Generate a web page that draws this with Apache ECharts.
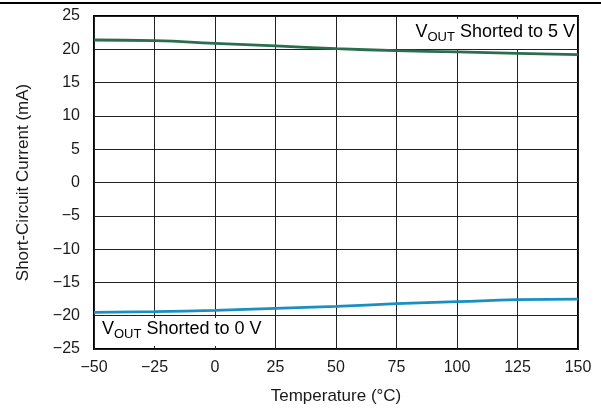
<!DOCTYPE html>
<html>
<head>
<meta charset="utf-8">
<script src="https://cdn.jsdelivr.net/npm/echarts@6/dist/echarts.min.js"></script>
<style>
html,body{margin:0;padding:0;background:#fff;}
#c{width:601px;height:413px;}
</style>
</head>
<body>
<div id="c"></div>
<script>
const temps = [-50, -25, 0, 25, 50, 75, 100, 125, 150];
const shorted5V = [21.4, 21.3, 20.9, 20.5, 20.1, 19.8, 19.6, 19.4, 19.2];
const shorted0V = [-19.5, -19.4, -19.2, -18.9, -18.6, -18.2, -17.9, -17.6, -17.5];
const xTicks = { min: -50, max: 150, interval: 25 };
const yTicks = { min: -25, max: 25, interval: 5 };
const xName = 'Temperature (\u00B0C)';
const yName = 'Short-Circuit Current (mA)';

const FONT = 'Liberation Sans, Arial, sans-serif';
const fmt = v => (v < 0 ? '\u2212' + Math.abs(v) : String(v));

const chart = echarts.init(document.getElementById('c'), null, {renderer: 'canvas'});
const rich = {
  a: {fontSize: 18, fontFamily: FONT, color: '#1a1a1a', lineHeight: 21, verticalAlign: 'top'},
  b: {fontSize: 13, fontFamily: FONT, color: '#1a1a1a', lineHeight: 13, verticalAlign: 'bottom'}
};
chart.setOption({
  animation: false,
  grid: {left: 94, right: 23, top: 16, bottom: 64, show: true, borderColor: '#000', borderWidth: 2, backgroundColor: 'transparent'},
  xAxis: {
    type: 'value', min: xTicks.min, max: xTicks.max, interval: xTicks.interval,
    name: xName, nameLocation: 'middle', nameGap: 39,
    nameTextStyle: {fontSize: 17, fontFamily: FONT, color: '#1a1a1a'},
    axisLine: {show: false}, axisTick: {show: false},
    axisLabel: {fontSize: 16, fontFamily: FONT, color: '#1a1a1a', margin: 11, formatter: fmt},
    splitLine: {show: true, lineStyle: {color: '#222', width: 1}}
  },
  yAxis: {
    type: 'value', min: yTicks.min, max: yTicks.max, interval: yTicks.interval,
    name: yName, nameLocation: 'middle', nameGap: 62, nameRotate: 90,
    nameTextStyle: {fontSize: 17, fontFamily: FONT, color: '#1a1a1a'},
    axisLine: {show: false}, axisTick: {show: false},
    axisLabel: {fontSize: 16, fontFamily: FONT, color: '#1a1a1a', margin: 14, formatter: fmt},
    splitLine: {show: true, lineStyle: {color: '#222', width: 1}}
  },
  series: [
    {type: 'line', smooth: true, showSymbol: false, data: temps.map((t, i) => [t, shorted5V[i]]),
     lineStyle: {color: '#2a6e4f', width: 2.8}, z: 3},
    {type: 'line', smooth: true, showSymbol: false, data: temps.map((t, i) => [t, shorted0V[i]]),
     lineStyle: {color: '#1a8fc2', width: 2.8}, z: 3}
  ],
  graphic: [
    {type: 'line', shape: {x1: 0, y1: 3, x2: 601, y2: 3}, style: {stroke: '#000', lineWidth: 2}},
    {type: 'text', right: 24, top: 19, z: 10,
     style: {text: '{a|V}{b|OUT}{a| Shorted to 5 V}', rich: rich, backgroundColor: '#fff', padding: [4, 2, 5, 6]}},
    {type: 'text', left: 96, top: 318, z: 10,
     style: {text: '{a|V}{b|OUT}{a| Shorted to 0 V}', rich: rich, backgroundColor: '#fff', padding: [2, 8, 5, 6]}}
  ]
});
</script>
</body>
</html>
